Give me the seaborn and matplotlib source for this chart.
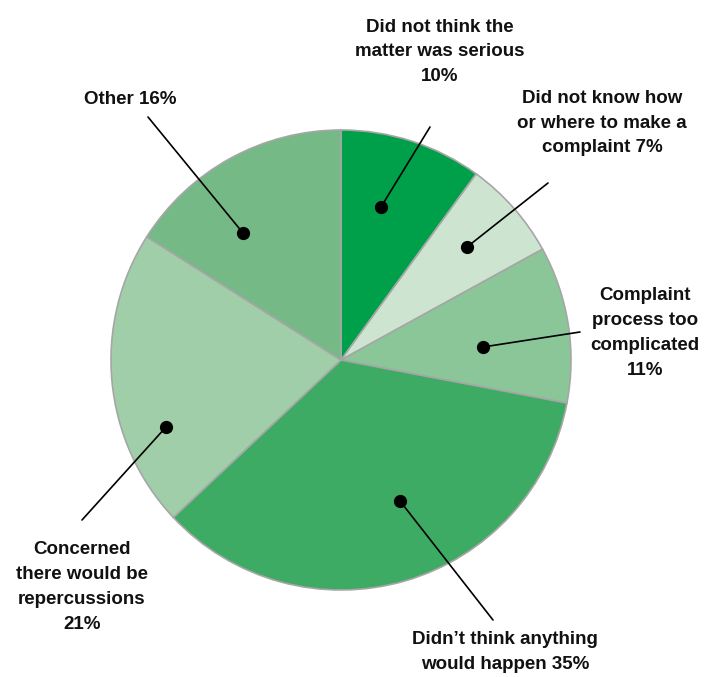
import matplotlib
matplotlib.use("Agg")
import matplotlib.pyplot as plt
import seaborn as sns

# Reasons for not making a complaint
labels = ["Did not think the\nmatter was serious\n10%",
          "Did not know how\nor where to make a\ncomplaint 7%",
          "Complaint\nprocess too\ncomplicated\n11%",
          "Didn\u2019t think anything\nwould happen 35%",
          "Concerned\nthere would be\nrepercussions\n21%",
          "Other 16%"]
values = [10, 7, 11, 35, 21, 16]
colors = ["#00a04a", "#cde5d0", "#8bc699", "#3dab63", "#a0cea8", "#74b986"]

# pixel positions of dots, line ends and text centres (y measured from top)
dots = [(381, 207), (467, 247), (483, 347), (400, 501), (166, 427), (243, 233)]
ends = [(430, 127), (548, 183), (580, 332), (493, 620), (82, 520), (148, 117)]
text_xy = [(440, 52), (602, 123), (645, 333), (505, 652), (82, 587), (130, 99)]

sns.set_theme(style="white")
plt.rcParams['font.family'] = ['Liberation Sans', 'DejaVu Sans']

W, H = 711, 677
fig = plt.figure(figsize=(W / 100, H / 100), dpi=100)
ax = fig.add_axes([0, 0, 1, 1])

ax.pie(values, colors=colors, startangle=90, counterclock=False,
       center=(341, H - 360), radius=230, frame=True,
       wedgeprops=dict(edgecolor="#a6a6a6", linewidth=1.2))
ax.set_xlim(0, W)
ax.set_ylim(0, H)
ax.set_aspect("equal")
ax.axis("off")

for lab, d, e, t in zip(labels, dots, ends, text_xy):
    ax.plot([d[0], e[0]], [H - d[1], H - e[1]], color="black", lw=1.2)
    ax.plot(d[0], H - d[1], "o", color="black", markersize=8.5)
    ax.text(t[0], H - t[1], lab, ha="center", va="center", fontsize=13.5,
            fontweight="bold", color="#111111", linespacing=1.6)

fig.savefig("out.png", dpi=100, facecolor="white")
